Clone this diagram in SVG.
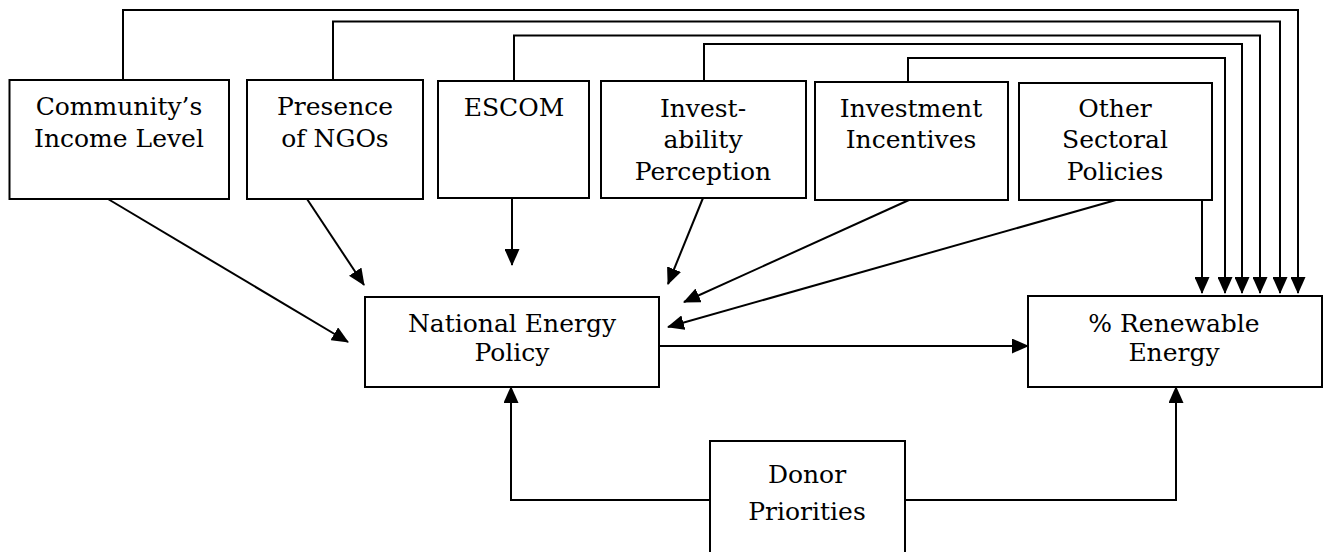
<svg xmlns="http://www.w3.org/2000/svg" width="1323" height="552" viewBox="0 0 1323 552">
<style>
.box{fill:#fff;stroke:#000;stroke-width:2}
.lbl{font-family:"DejaVu Serif","Liberation Serif",serif;font-size:25px;fill:#000;text-anchor:middle}
.c{fill:none;stroke:#000;stroke-width:2}
.a{marker-end:url(#ah)}
</style>
<defs>
<marker id="ah" markerUnits="userSpaceOnUse" viewBox="0 0 17 15" markerWidth="17" markerHeight="15" refX="16" refY="7.5" orient="auto">
<path d="M0,0 L17,7.5 L0,15 z" fill="#000"/>
</marker>
</defs>
<rect width="1323" height="552" fill="#fff"/>
<g id="connectors">
<path class="c a" d="M123,80 V10 H1298 V293"/>
<path class="c a" d="M333,80 V21.5 H1280 V293"/>
<path class="c a" d="M514,81 V35.5 H1260 V293"/>
<path class="c a" d="M704,81 V44 H1242 V293"/>
<path class="c a" d="M908,82 V58 H1225 V293"/>
<path class="c a" d="M1202,200 V293"/>
<path class="c a" d="M108,199 L348,342"/>
<path class="c a" d="M307,199 L364,285"/>
<path class="c a" d="M512,198 L512,265"/>
<path class="c a" d="M703,198 L668,284"/>
<path class="c a" d="M909,200 L684,302"/>
<path class="c a" d="M1116,200 L668,327"/>
<path class="c a" d="M659,346 H1028"/>
<path class="c a" d="M710,500 H511 V387"/>
<path class="c a" d="M905,500 H1176 V387"/>
</g>
<g id="community">
<rect class="box" x="9.5" y="80" width="219.5" height="119"/>
<text class="lbl" x="119" y="115">Community’s</text>
<text class="lbl" x="119" y="147">Income Level</text>
</g>
<g id="ngos">
<rect class="box" x="247" y="80" width="176" height="119"/>
<text class="lbl" x="335" y="115">Presence</text>
<text class="lbl" x="335" y="147">of NGOs</text>
</g>
<g id="escom">
<rect class="box" x="438" y="81" width="151" height="117"/>
<text class="lbl" x="514" y="116">ESCOM</text>
</g>
<g id="investability">
<rect class="box" x="601" y="81" width="205" height="117"/>
<text class="lbl" x="703" y="117">Invest-</text>
<text class="lbl" x="703" y="148">ability</text>
<text class="lbl" x="703" y="180">Perception</text>
</g>
<g id="incentives">
<rect class="box" x="815" y="82" width="193" height="118"/>
<text class="lbl" x="911" y="117">Investment</text>
<text class="lbl" x="911" y="148">Incentives</text>
</g>
<g id="sectoral">
<rect class="box" x="1019" y="83" width="193" height="117"/>
<text class="lbl" x="1115" y="117">Other</text>
<text class="lbl" x="1115" y="148">Sectoral</text>
<text class="lbl" x="1115" y="180">Policies</text>
</g>
<g id="national">
<rect class="box" x="365" y="297" width="294" height="90"/>
<text class="lbl" x="512" y="332">National Energy</text>
<text class="lbl" x="512" y="361">Policy</text>
</g>
<g id="renewable">
<rect class="box" x="1028" y="296" width="294" height="91"/>
<text class="lbl" x="1174" y="332">% Renewable</text>
<text class="lbl" x="1174" y="361">Energy</text>
</g>
<g id="donor">
<rect class="box" x="710" y="441" width="195" height="115"/>
<text class="lbl" x="807" y="483">Donor</text>
<text class="lbl" x="807" y="520">Priorities</text>
</g>
</svg>
